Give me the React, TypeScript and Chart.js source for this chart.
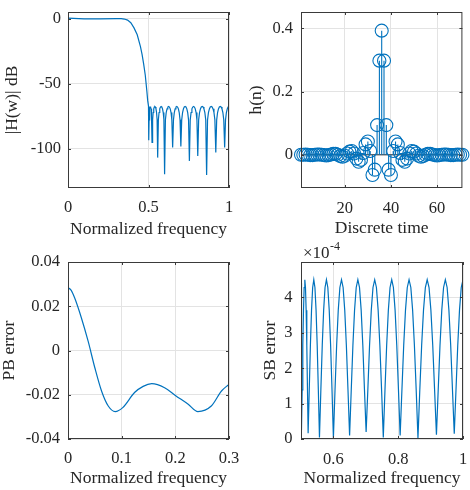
import React, { useEffect, useRef } from 'react';
import { Chart, registerables } from 'chart.js';
Chart.register(...registerables);

// ---------------- data ----------------
// |H(w)| in dB : passband + transition band
const tbFreq = [0, 0.1, 0.2, 0.3, 0.33, 0.35, 0.37, 0.39, 0.41, 0.43, 0.45, 0.46, 0.47, 0.48, 0.49, 0.495];
const tbDb = [0.24, -0.24, -0.2, -0.13, -0.1, -0.4, -1.2, -3.2, -7.2, -12.5, -21.5, -27.5, -35, -43.5, -56, -63];

// stopband samples (shared by the dB plot and the SB error plot)
const sbFreq = [
  0.5000, 0.5015,
  0.5036, 0.5056, 0.5077, 0.5097, 0.5118, 0.5138, 0.5159, 0.5179, 0.5200, 0.5220,
  0.5255, 0.5290, 0.5325, 0.5360, 0.5395, 0.5430, 0.5465, 0.5500, 0.5535, 0.5570,
  0.5613, 0.5656, 0.5699, 0.5742, 0.5785, 0.5828, 0.5871, 0.5914, 0.5957, 0.6000,
  0.6050, 0.6100, 0.6150, 0.6200, 0.6250, 0.6300, 0.6350, 0.6400, 0.6450, 0.6500,
  0.6551, 0.6602, 0.6653, 0.6704, 0.6755, 0.6806, 0.6857, 0.6908, 0.6959, 0.7010,
  0.7063, 0.7116, 0.7169, 0.7222, 0.7275, 0.7328, 0.7381, 0.7434, 0.7487, 0.7540,
  0.7592, 0.7644, 0.7696, 0.7748, 0.7800, 0.7852, 0.7904, 0.7956, 0.8008, 0.8060,
  0.8115, 0.8170, 0.8225, 0.8280, 0.8335, 0.8390, 0.8445, 0.8500, 0.8555, 0.8610,
  0.8667, 0.8724, 0.8781, 0.8838, 0.8895, 0.8952, 0.9009, 0.9066, 0.9123, 0.9180,
  0.9235, 0.9290, 0.9345, 0.9400, 0.9455, 0.9510, 0.9565, 0.9620, 0.9675, 0.9730,
  0.9784, 0.9838, 0.9892, 0.9946, 1.0000,
];
const sbDb = [
  -67.2, -93.3,
  -77.7, -72.1, -69.3, -67.9, -67.5, -67.9, -69.3, -72.1, -77.7, -95.1,
  -77.7, -72.1, -69.3, -67.9, -67.5, -67.9, -69.3, -72.1, -77.7, -106.7,
  -77.7, -72.1, -69.3, -67.9, -67.5, -67.9, -69.3, -72.1, -77.7, -119.5,
  -77.7, -72.1, -69.3, -67.9, -67.5, -67.9, -69.3, -72.1, -77.7, -99.0,
  -77.7, -72.1, -69.3, -67.9, -67.5, -67.9, -69.3, -72.1, -77.7, -98.2,
  -77.7, -72.1, -69.3, -67.9, -67.5, -67.9, -69.3, -72.1, -77.7, -109.2,
  -77.7, -72.1, -69.3, -67.9, -67.5, -67.9, -69.3, -72.1, -77.7, -105.4,
  -77.7, -72.1, -69.3, -67.9, -67.5, -67.9, -69.3, -72.1, -77.7, -120.0,
  -77.7, -72.1, -69.3, -67.9, -67.5, -67.9, -69.3, -72.1, -77.7, -102.8,
  -77.7, -72.1, -69.3, -67.9, -67.5, -67.9, -69.3, -72.1, -77.7, -99.0,
  -77.7, -72.1, -69.3, -67.9, -67.5,
];
const sbErr = [
  4.40e-4, 0.25e-4,
  1.39e-4, 2.65e-4, 3.64e-4, 4.28e-4, 4.50e-4, 4.28e-4, 3.64e-4, 2.65e-4, 1.39e-4, 0.16e-4,
  1.39e-4, 2.65e-4, 3.64e-4, 4.28e-4, 4.50e-4, 4.28e-4, 3.64e-4, 2.65e-4, 1.39e-4, 0.04e-4,
  1.39e-4, 2.65e-4, 3.64e-4, 4.28e-4, 4.50e-4, 4.28e-4, 3.64e-4, 2.65e-4, 1.39e-4, 0.03e-4,
  1.39e-4, 2.65e-4, 3.64e-4, 4.28e-4, 4.50e-4, 4.28e-4, 3.64e-4, 2.65e-4, 1.39e-4, 0.10e-4,
  1.39e-4, 2.65e-4, 3.64e-4, 4.28e-4, 4.50e-4, 4.28e-4, 3.64e-4, 2.65e-4, 1.39e-4, 0.20e-4,
  1.39e-4, 2.65e-4, 3.64e-4, 4.28e-4, 4.50e-4, 4.28e-4, 3.64e-4, 2.65e-4, 1.39e-4, 0.04e-4,
  1.39e-4, 2.65e-4, 3.64e-4, 4.28e-4, 4.50e-4, 4.28e-4, 3.64e-4, 2.65e-4, 1.39e-4, 0.10e-4,
  1.39e-4, 2.65e-4, 3.64e-4, 4.28e-4, 4.50e-4, 4.28e-4, 3.64e-4, 2.65e-4, 1.39e-4, 0.02e-4,
  1.39e-4, 2.65e-4, 3.64e-4, 4.28e-4, 4.50e-4, 4.28e-4, 3.64e-4, 2.65e-4, 1.39e-4, 0.12e-4,
  1.39e-4, 2.65e-4, 3.64e-4, 4.28e-4, 4.50e-4, 4.28e-4, 3.64e-4, 2.65e-4, 1.39e-4, 0.15e-4,
  1.39e-4, 2.65e-4, 3.64e-4, 4.28e-4, 4.50e-4,
];

// passband error
const pbFreq = [0, 0.006, 0.0125, 0.025, 0.0375, 0.05, 0.0625, 0.075, 0.088, 0.102, 0.124, 0.14, 0.156, 0.18, 0.2, 0.224, 0.242, 0.267, 0.286, 0.3];
const pbErr = [0.0284, 0.0272, 0.0237, 0.0147, 0.0042, -0.0078, -0.0183, -0.0251, -0.0276, -0.0258, -0.019, -0.0162, -0.015, -0.0168, -0.0203, -0.0243, -0.0276, -0.0251, -0.0183, -0.0153];

// impulse response h(n), n = 1..71
const hn = [
  0.000, 0.000, 0.001, 0.000, -0.001, -0.001, 0.000, 0.001, 0.001, 0.000,
  -0.001, -0.002, -0.001, 0.001, 0.003, 0.003, 0.000, -0.004, -0.006, -0.003,
  0.004, 0.010, 0.012, 0.004, -0.012, -0.022, -0.016, 0.006, 0.033, 0.042,
  0.012, -0.064, -0.047, 0.094, 0.298, 0.393, 0.298, 0.094, -0.047, -0.064,
  0.012, 0.042, 0.033, 0.006, -0.016, -0.022, -0.012, 0.004, 0.012, 0.010,
  0.004, -0.003, -0.006, -0.004, 0.000, 0.003, 0.003, 0.001, -0.001, -0.002,
  -0.001, 0.000, 0.001, 0.001, 0.000, -0.001, -0.001, 0.000, 0.001, 0.000,
  0.000,
];

// ticks
const tlXTicks = [0, 0.5, 1];
const tlXLabels = ['0', '0.5', '1'];
const tlYTicks = [-100, -50, 0];
const tlYLabels = ['-100', '-50', '0'];
const trXTicks = [20, 40, 60];
const trXLabels = ['20', '40', '60'];
const trYTicks = [0, 0.2, 0.4];
const trYLabels = ['0', '0.2', '0.4'];
const blXTicks = [0, 0.1, 0.2, 0.3];
const blXLabels = ['0', '0.1', '0.2', '0.3'];
const blYTicks = [-0.04, -0.02, 0, 0.02, 0.04];
const blYLabels = ['-0.04', '-0.02', '0', '0.02', '0.04'];
const brXTicks = [0.6, 0.8, 1];
const brXLabels = ['0.6', '0.8', '1'];
const brYTicks = [0, 1e-4, 2e-4, 3e-4, 4e-4];
const brYLabels = ['0', '1', '2', '3', '4'];

// ---------------- styling ----------------
const FONT = "'Liberation Serif', 'Times New Roman', Times, serif";
const TXT = '#262626';
const AXC = '#3a3a3a';
const GRID = '#e3e3e3';
const BLUE = '#0072BD';

type AxisSpec = {
  min: number; max: number; ticks: number[]; labels: string[];
  title: string; titlePad: number; tickPad: number;
};

type PanelSpec = {
  rect: [number, number, number, number];
  area: [number, number, number, number];
  x: AxisSpec; y: AxisSpec;
  datasets: any[];
  extra?: (chart: any) => void;
};

function makeAxis(pos: 'bottom' | 'left', a: AxisSpec, size: number) {
  const horizontal = pos === 'bottom';
  return {
    type: 'linear',
    position: pos,
    min: a.min,
    max: a.max,
    afterBuildTicks: (s: any) => { s.ticks = a.ticks.map((v) => ({ value: v })); },
    afterFit: (s: any) => {
      if (horizontal) s.height = size; else s.width = size;
      s.paddingLeft = 0; s.paddingRight = 0; s.paddingTop = 0; s.paddingBottom = 0;
    },
    grid: { color: GRID, lineWidth: 1, drawTicks: false },
    border: { display: false },
    ticks: {
      autoSkip: false, maxRotation: 0, minRotation: 0,
      padding: a.tickPad,
      color: TXT,
      font: { family: FONT, size: 16.5, lineHeight: 1 },
      callback: (v: any) => {
        const i = a.ticks.findIndex((t) => Math.abs(t - v) < 1e-12);
        return i >= 0 ? a.labels[i] : '';
      },
    },
    title: {
      display: true, text: a.title, color: TXT,
      font: { family: FONT, size: 17.5, lineHeight: 1 },
      padding: horizontal ? { top: 0, bottom: a.titlePad } : { top: a.titlePad, bottom: 0 },
    },
  };
}

function Panel({ spec }: { spec: PanelSpec }) {
  const ref = useRef<HTMLCanvasElement | null>(null);
  useEffect(() => {
    const canvas = ref.current;
    if (!canvas) return;
    const [cx, cy, cw, ch] = spec.rect;
    const [pl, pt, pr, pb] = spec.area;
    const boxPlugin = {
      id: 'matlabBox',
      afterDraw(chart: any) {
        const ctx = chart.ctx;
        const { left, right, top, bottom } = chart.chartArea;
        ctx.save();
        ctx.strokeStyle = AXC;
        ctx.lineWidth = 1;
        ctx.strokeRect(left + 0.5, top + 0.5, right - left - 1, bottom - top - 1);
        const xs = chart.scales.x, ys = chart.scales.y;
        const tl = 3;
        ctx.beginPath();
        spec.x.ticks.forEach((v) => {
          const p = Math.round(xs.getPixelForValue(v)) + 0.5;
          ctx.moveTo(p, bottom); ctx.lineTo(p, bottom - tl);
          ctx.moveTo(p, top); ctx.lineTo(p, top + tl);
        });
        spec.y.ticks.forEach((v) => {
          const p = Math.round(ys.getPixelForValue(v)) + 0.5;
          ctx.moveTo(left, p); ctx.lineTo(left + tl, p);
          ctx.moveTo(right, p); ctx.lineTo(right - tl, p);
        });
        ctx.stroke();
        ctx.restore();
        if (spec.extra) spec.extra(chart);
      },
    };
    const chart = new Chart(canvas, {
      type: 'line',
      data: { datasets: spec.datasets },
      options: {
        responsive: false,
        maintainAspectRatio: false,
        animation: false,
        devicePixelRatio: 1,
        events: [],
        layout: { padding: { left: 0, top: pt - cy, right: cx + cw - pr, bottom: 0 } },
        plugins: { legend: { display: false }, tooltip: { enabled: false }, title: { display: false } },
        scales: {
          x: makeAxis('bottom', spec.x, cy + ch - pb),
          y: makeAxis('left', spec.y, pl - cx),
        },
      } as any,
      plugins: [boxPlugin],
    });
    return () => chart.destroy();
  }, [spec]);
  const [cx, cy, cw, ch] = spec.rect;
  return (
    <canvas
      ref={ref}
      width={cw}
      height={ch}
      style={{ position: 'absolute', left: cx, top: cy, width: cw, height: ch }}
    />
  );
}

const lineDs = (xs: number[], ys: number[], extra: any = {}) => ({
  data: xs.map((x, i) => ({ x, y: ys[i] })),
  borderColor: BLUE,
  borderWidth: 1.2,
  pointRadius: 0,
  fill: false,
  tension: 0,
  ...extra,
});

const dbFreq = [...tbFreq, ...sbFreq];
const dbVals = [...tbDb, ...sbDb];

const stemPts: any[] = [];
hn.forEach((v, i) => { stemPts.push({ x: i + 1, y: 0 }, { x: i + 1, y: v }, { x: i + 1, y: null }); });

const specs: PanelSpec[] = [
  {
    rect: [0, 0, 250, 245],
    area: [68, 12, 229, 188],
    x: { min: 0, max: 1, ticks: tlXTicks, labels: tlXLabels, title: 'Normalized frequency', titlePad: 6.5, tickPad: 11 },
    y: { min: -130, max: 5, ticks: tlYTicks, labels: tlYLabels, title: '|H(w)| dB', titlePad: 4, tickPad: 7 },
    datasets: [lineDs(dbFreq, dbVals)],
  },
  {
    rect: [235, 0, 235, 245],
    area: [301, 12, 463, 188],
    x: { min: 1, max: 71, ticks: trXTicks, labels: trXLabels, title: 'Discrete time', titlePad: 7.5, tickPad: 12 },
    y: { min: -0.105, max: 0.452, ticks: trYTicks, labels: trYLabels, title: 'h(n)', titlePad: 12.5, tickPad: 8 },
    datasets: [
      {
        data: hn.map((v, i) => ({ x: i + 1, y: v })),
        showLine: false,
        pointRadius: 6.5,
        pointBorderColor: BLUE,
        pointBackgroundColor: 'rgba(0,0,0,0)',
        pointBorderWidth: 1.1,
        borderColor: BLUE,
        clip: false,
        order: 1,
      },
      {
        data: stemPts,
        borderColor: BLUE,
        borderWidth: 1.1,
        pointRadius: 0,
        spanGaps: false,
        order: 2,
      },
      {
        data: [{ x: 1, y: 0 }, { x: hn.length, y: 0 }],
        borderColor: '#262626',
        borderWidth: 1,
        pointRadius: 0,
        order: 3,
      },
    ],
  },
  {
    rect: [0, 245, 250, 245],
    area: [68, 262, 229, 439],
    x: { min: 0, max: 0.3, ticks: blXTicks, labels: blXLabels, title: 'Normalized frequency', titlePad: 3, tickPad: 11 },
    y: { min: -0.04, max: 0.04, ticks: blYTicks, labels: blYLabels, title: 'PB error', titlePad: 0.7, tickPad: 8 },
    datasets: [lineDs(pbFreq, pbErr, { cubicInterpolationMode: 'monotone' })],
  },
  {
    rect: [235, 235, 235, 255],
    area: [301, 262, 463, 439],
    x: { min: 0.5, max: 1, ticks: brXTicks, labels: brXLabels, title: 'Normalized frequency', titlePad: 2.5, tickPad: 12.5 },
    y: { min: 0, max: 5e-4, ticks: brYTicks, labels: brYLabels, title: 'SB error', titlePad: 26.5, tickPad: 8.5 },
    datasets: [lineDs(sbFreq, sbErr)],
    extra: (chart: any) => {
      const ctx = chart.ctx;
      const { left, top } = chart.chartArea;
      ctx.save();
      ctx.fillStyle = TXT;
      ctx.textAlign = 'left';
      ctx.textBaseline = 'alphabetic';
      ctx.font = `17px ${FONT}`;
      const base = '\u00d710';
      ctx.fillText(base, left + 2, top - 4);
      const w = ctx.measureText(base).width;
      ctx.font = `12px ${FONT}`;
      ctx.fillText('-4', left + 2 + w + 0.5, top - 12);
      ctx.restore();
    },
  },
];

export default function App() {
  return (
    <div style={{ position: 'absolute', left: 0, top: 0, width: 470, height: 490, background: '#ffffff', overflow: 'hidden' }}>
      {specs.map((s, i) => <Panel key={i} spec={s} />)}
    </div>
  );
}
